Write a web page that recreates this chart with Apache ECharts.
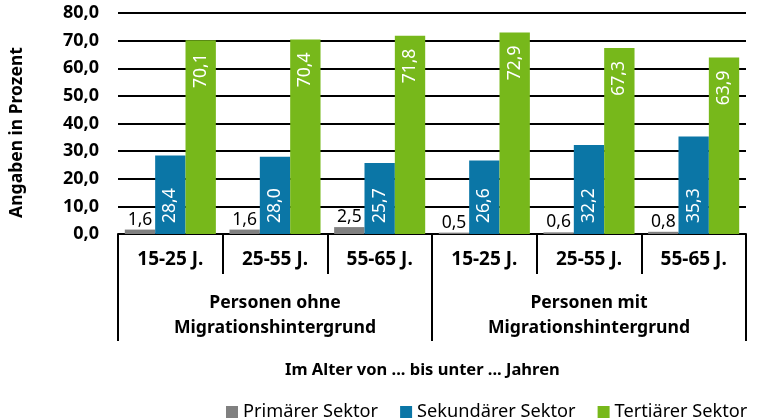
<!DOCTYPE html>
<html>
<head>
<meta charset="utf-8">
<script src="https://cdn.jsdelivr.net/npm/echarts@6/dist/echarts.min.js"></script>
<style>
html,body{margin:0;padding:0;background:#fff;}
#chart{width:761px;height:419px;}
</style>
</head>
<body>
<div id="chart"></div>
<script>
var ageCategories = ['15-25 J.', '25-55 J.', '55-65 J.', '15-25 J.', '25-55 J.', '55-65 J.'];
var groupCategories = ['Personen ohne\nMigrationshintergrund', 'Personen mit\nMigrationshintergrund'];
var seriesNames = ['Primärer Sektor', 'Sekundärer Sektor', 'Tertiärer Sektor'];
var primaer = [1.6, 1.6, 2.5, 0.5, 0.6, 0.8];
var sekundaer = [28.4, 28.0, 25.7, 26.6, 32.2, 35.3];
var tertiaer = [70.1, 70.4, 71.8, 72.9, 67.3, 63.9];
var yTicks = [0, 10, 20, 30, 40, 50, 60, 70, 80];

var FONT = '"Noto Sans", sans-serif';
function fmt(v) { return v.toFixed(1).replace('.', ','); }

var chart = echarts.init(document.getElementById('chart'));
chart.setOption({
  animation: false,
  textStyle: { fontFamily: FONT },
  title: {
    text: 'Im Alter von ... bis unter ... Jahren',
    left: 280, top: 357,
    textStyle: { fontFamily: FONT, fontSize: 16.5, fontWeight: 'bold', color: '#000' }
  },
  legend: {
    data: seriesNames,
    left: 221, top: 398, width: 540,
    itemWidth: 12, itemHeight: 12, itemGap: 22,
    icon: 'rect',
    textStyle: { fontFamily: FONT, fontSize: 18.2, color: '#000' }
  },
  grid: { left: 117, right: 15, top: 13, bottom: 185, containLabel: false },
  xAxis: [
    {
      type: 'category', data: ageCategories, position: 'bottom',
      axisLine: { show: true, lineStyle: { color: '#000', width: 2 } },
      axisTick: { show: true, length: 40, interval: 0, lineStyle: { color: '#000', width: 2 } },
      axisLabel: { interval: 0, margin: 16, fontFamily: FONT, fontSize: 19, fontWeight: 'bold', color: '#000' }
    },
    {
      type: 'category', data: groupCategories, position: 'bottom',
      axisLine: { show: false },
      axisTick: { show: true, length: 107, interval: 0, lineStyle: { color: '#000', width: 2 } },
      axisLabel: { interval: 0, margin: 56, lineHeight: 25, fontFamily: FONT, fontSize: 17.6, fontWeight: 'bold', color: '#000' }
    }
  ],
  yAxis: {
    type: 'value', min: 0, max: 80, interval: 10,
    name: 'Angaben in Prozent', nameLocation: 'middle', nameRotate: 90, nameGap: 92,
    nameTextStyle: { fontFamily: FONT, fontSize: 17.5, fontWeight: 'bold', color: '#000', padding: [0, 18, 0, 0] },
    axisLine: { show: false }, axisTick: { show: false },
    splitLine: { show: true, lineStyle: { color: '#000', width: 2 } },
    axisLabel: {
      margin: 19, fontFamily: FONT, fontSize: 18, fontWeight: 'bold', color: '#000',
      formatter: function (v) { return yTicks.indexOf(v) >= 0 ? fmt(v) : ''; }
    }
  },
  series: [
    {
      name: seriesNames[0], type: 'bar', data: primaer, xAxisIndex: 0,
      barGap: '0%', barCategoryGap: '13%',
      itemStyle: { color: '#808080' },
      label: { show: true, position: 'top', distance: 1, color: '#000', fontSize: 17.5, fontFamily: FONT,
        formatter: function (p) { return fmt(p.value); } }
    },
    {
      name: seriesNames[1], type: 'bar', data: sekundaer, xAxisIndex: 0,
      barGap: '0%', barCategoryGap: '13%',
      itemStyle: { color: '#0b76a6' },
      label: { show: true, position: 'insideBottom', rotate: 90, align: 'left', verticalAlign: 'middle', distance: 11,
        color: '#fff', fontSize: 17.5, fontFamily: FONT,
        formatter: function (p) { return fmt(p.value); } }
    },
    {
      name: seriesNames[2], type: 'bar', data: tertiaer, xAxisIndex: 0,
      barGap: '0%', barCategoryGap: '13%',
      itemStyle: { color: '#77b81b' },
      label: { show: true, position: 'insideTop', rotate: 90, align: 'right', verticalAlign: 'middle', distance: 13,
        color: '#fff', fontSize: 17.5, fontFamily: FONT,
        formatter: function (p) { return fmt(p.value); } }
    }
  ]
});
</script>
</body>
</html>
